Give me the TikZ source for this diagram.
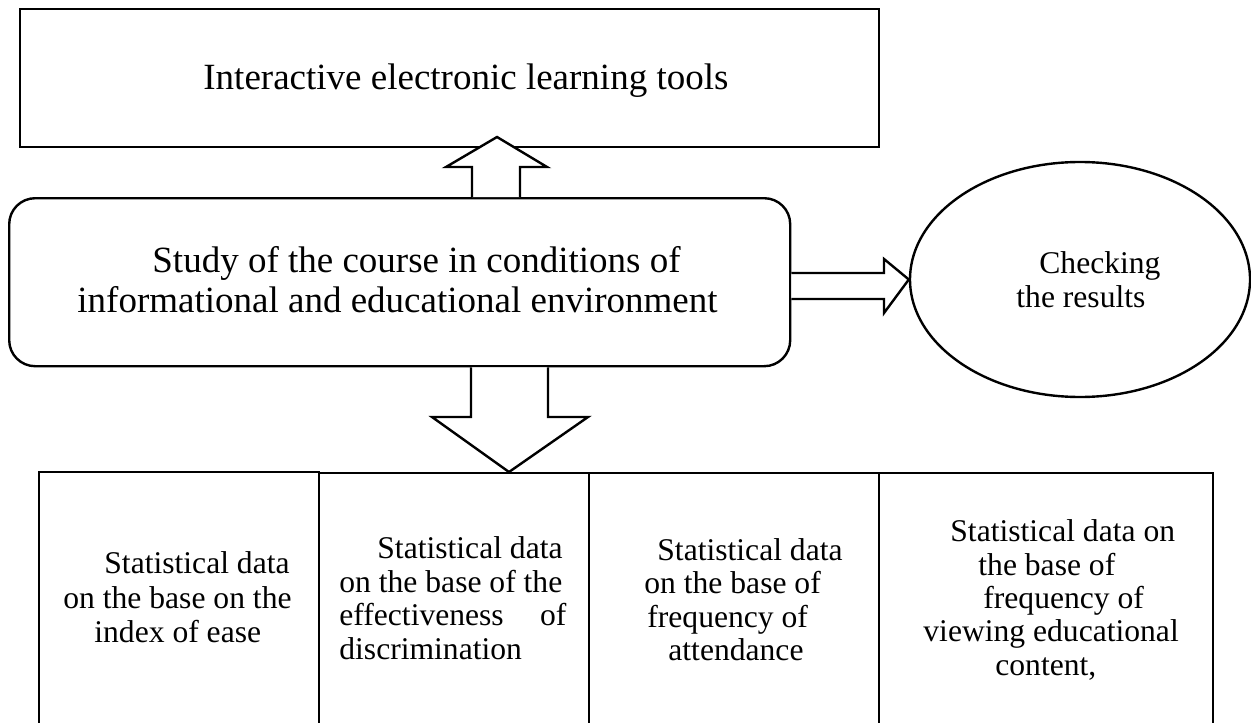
\documentclass[tikz,border=0pt]{standalone}
\usepackage{fontspec}
\setmainfont{Liberation Serif}
\usetikzlibrary{shapes.geometric}
\tikzset{
  frame/.style={draw, line width=1.2pt, rectangle, inner sep=0pt, anchor=north west},
  blockarrow/.style={draw, fill=white, line width=1.2pt, line join=miter},
  bigtxt/.style={inner sep=0pt, anchor=base west, font=\fontsize{18.5pt}{20pt}\selectfont},
  smalltxt/.style={inner sep=0pt, anchor=base west, font=\fontsize{15.8pt}{17pt}\selectfont}
}
\begin{document}
\begin{tikzpicture}[x=0.5pt,y=-0.5pt]
\useasboundingbox (0,0) rectangle (1251,722);
% boxes
\node[frame, minimum width=429.5pt, minimum height=69pt] (top) at (19,8) {};
\node[frame, rounded corners=13pt, minimum width=390.5pt, minimum height=84pt] (main) at (8,197) {};
\node[draw, line width=1.2pt, ellipse, inner sep=0pt, minimum width=170pt, minimum height=117.5pt] (check) at (1080,279.5) {};
\node[frame, minimum width=140pt, minimum height=130pt] (b1) at (38,471) {};
\node[frame, minimum width=135pt, minimum height=130pt] (b2) at (318,472) {};
\node[frame, minimum width=145pt, minimum height=130pt] (b3) at (588,472) {};
\node[frame, minimum width=167pt, minimum height=130pt] (b4) at (878,472) {};
% block arrows
\coordinate (uptip) at (497,137);
\draw[blockarrow] (472,0 |- main.north) -- (472,167) -- (446,167) -- (uptip)
  -- (547,167) -- (520,167) -- (520,0 |- main.north);
\draw[blockarrow] (471,0 |- main.south) -- (471,417) -- (432,417) -- (509,0 |- b2.north)
  -- (588,417) -- (548,417) -- (548,0 |- main.south);
\draw[blockarrow] (main.east |- 0,273) -- (884,273) -- (884,259) -- (check.west)
  -- (884,313) -- (884,299) -- (main.east |- 0,299);
% texts
\node[bigtxt] (t1) at (203,90) {Interactive electronic learning tools};
\node[bigtxt] (m1) at (152,272) {Study of the course in conditions of};
\node[bigtxt] (m2) at (77,312) {informational and educational environment};
\node[smalltxt] (c1) at (1039,273) {Checking};
\node[smalltxt] (c2) at (1016,307) {the results};
\node[smalltxt] (a1) at (104,573) {Statistical data};
\node[smalltxt] (a2) at (63,608) {on the base on the};
\node[smalltxt] (a3) at (94,642) {index of ease};
\node[smalltxt] (d1) at (377,558) {Statistical data};
\node[smalltxt] (d2) at (339,592) {on the base of the};
\node[smalltxt] (d3) at (339,625) {\makebox[113.5pt][s]{effectiveness of}};
\node[smalltxt] (d4) at (339,659) {discrimination};
\node[smalltxt] (e1) at (657,560) {Statistical data};
\node[smalltxt] (e2) at (644,593) {on the base of};
\node[smalltxt] (e3) at (647,627) {frequency of};
\node[smalltxt] (e4) at (668,660) {attendance};
\node[smalltxt] (f1) at (950,541) {Statistical data on};
\node[smalltxt] (f2) at (978,575) {the base of};
\node[smalltxt] (f3) at (983,608) {frequency of};
\node[smalltxt] (f4) at (923,641) {viewing educational};
\node[smalltxt] (f5) at (995,675) {content,};
\end{tikzpicture}
\end{document}
